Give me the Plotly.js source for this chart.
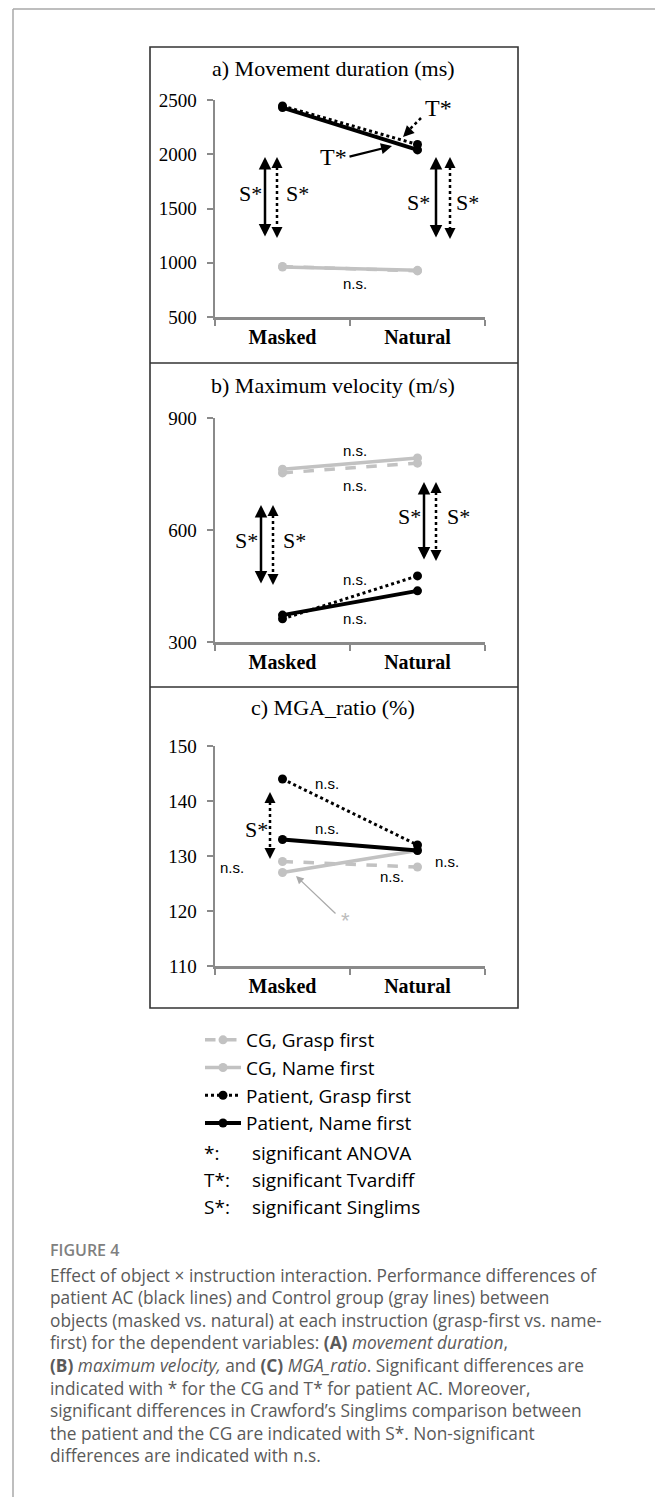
<!DOCTYPE html>
<html>
<head>
<meta charset="utf-8">
<script src="https://cdn.plot.ly/plotly-3.0.1.min.js"></script>
<style>
  html, body { margin: 0; padding: 0; background: #fff; }
  #chart { width: 655px; height: 1497px; }
</style>
</head>
<body>
<div id="chart"></div>
<script>
// ---------------- DATA ----------------
const categories = ['Masked', 'Natural'];
const seriesNames = ['CG, Grasp first', 'CG, Name first', 'Patient, Grasp first', 'Patient, Name first'];

// a) Movement duration (ms)
const durCGGrasp  = [965, 925];
const durCGName   = [960, 930];
const durPatGrasp = [2445, 2090];
const durPatName  = [2430, 2040];

// b) Maximum velocity (m/s)
const velCGGrasp  = [753, 779];
const velCGName   = [763, 793];
const velPatGrasp = [362, 477];
const velPatName  = [372, 437];

// c) MGA_ratio (%)
const mgaCGGrasp  = [129, 128];
const mgaCGName   = [127, 131];
const mgaPatGrasp = [144, 132];
const mgaPatName  = [133, 131];

const ticksA = [500, 1000, 1500, 2000, 2500];
const ticksB = [300, 600, 900];
const ticksC = [110, 120, 130, 140, 150];

const panelTitles = ['a) Movement duration (ms)', 'b) Maximum velocity (m/s)', 'c) MGA_ratio (%)'];

const legendExtra = [['*:', 'significant ANOVA'], ['T*:', 'significant Tvardiff'], ['S*:', 'significant Singlims']];

const captionHead = 'FIGURE 4';
const captionLines = [
  'Effect of object \u00d7 instruction interaction. Performance differences of',
  'patient AC (black lines) and Control group (gray lines) between',
  'objects (masked vs. natural) at each instruction (grasp-first vs. name-',
  'first) for the dependent variables: <b>(A)</b> <i>movement duration</i>,',
  '<b>(B)</b> <i>maximum velocity,</i> and <b>(C)</b> <i>MGA_ratio</i>. Significant differences are',
  'indicated with * for the CG and T* for patient AC. Moreover,',
  'significant differences in Crawford\u2019s Singlims comparison between',
  'the patient and the CG are indicated with S*. Non-significant',
  'differences are indicated with n.s.'
];

// ---------------- HELPERS ----------------
const W = 655, H = 1497;
const fx = p => p / W;
const fy = p => 1 - p / H;

const GRAY = '#c2c2c2';
const AXC = '#8a8a8a';
const SERIF = 'Liberation Serif, Times New Roman, serif';
const SANS = 'Liberation Sans, Arial, sans-serif';
const LEG = 'Open Sans, sans-serif';
const CAP = 'Open Sans, sans-serif';

const styles = [
  {color: GRAY, dash: 'dash', width: 3.5, msize: 9},
  {color: GRAY, dash: 'solid', width: 3.5, msize: 9},
  {color: '#000', dash: 'dot', width: 3, msize: 9},
  {color: '#000', dash: 'solid', width: 4, msize: 9}
];

const panels = [
  {data: [durCGGrasp, durCGName, durPatGrasp, durPatName], xa: 'x', ya: 'y'},
  {data: [velCGGrasp, velCGName, velPatGrasp, velPatName], xa: 'x2', ya: 'y2'},
  {data: [mgaCGGrasp, mgaCGName, mgaPatGrasp, mgaPatName], xa: 'x3', ya: 'y3'}
];

const traces = [];
panels.forEach((p, pi) => {
  p.data.forEach((vals, si) => {
    const s = styles[si];
    traces.push({
      type: 'scatter', mode: 'lines+markers',
      x: categories, y: vals,
      xaxis: p.xa, yaxis: p.ya,
      name: seriesNames[si],
      showlegend: pi === 0,
      line: {color: s.color, dash: s.dash, width: s.width},
      marker: {color: s.color, size: s.msize},
      cliponaxis: false,
      hoverinfo: 'skip'
    });
  });
});

function xAxis(anchor) {
  return {
    domain: [fx(215), fx(485)], anchor: anchor,
    type: 'category', range: [-0.5, 1.5], tickson: 'boundaries',
    ticks: 'outside', ticklen: 6, tickwidth: 2, tickcolor: AXC,
    showline: true, linecolor: AXC, linewidth: 2.5,
    showgrid: false, zeroline: false, fixedrange: true,
    tickfont: {family: SERIF, size: 20, color: '#000', weight: 'bold'}
  };
}
function yAxis(anchor, top, bottom, range, tv) {
  return {
    domain: [fy(bottom), fy(top)], anchor: anchor,
    range: range, tickmode: 'array', tickvals: tv,
    ticks: 'outside', ticklen: 6, tickwidth: 2, tickcolor: AXC,
    showline: true, linecolor: AXC, linewidth: 2.5,
    showgrid: false, zeroline: false, fixedrange: true,
    ticklabelstandoff: 6,
    tickfont: {family: SERIF, size: 19, color: '#000'}
  };
}

// ---------------- ANNOTATIONS / SHAPES ----------------
const ann = [];
const shapes = [];

function text(x, y, t, font, opts) {
  ann.push(Object.assign({xref: 'paper', yref: 'paper', x: fx(x), y: fy(y), text: t,
    showarrow: false, xanchor: 'center', yanchor: 'middle', font: font}, opts || {}));
}
const fNS = {family: SANS, size: 15, color: '#000'};
const fS = {family: SERIF, size: 22, color: '#000'};
const fT = {family: SERIF, size: 24, color: '#000'};

function solidDouble(x, yTop, yBot) {
  ann.push({xref: 'paper', yref: 'paper', x: fx(x), y: fy(yTop), ax: 0, ay: yBot - yTop,
    text: '', showarrow: true, arrowside: 'end+start', arrowhead: 2, arrowsize: 1,
    arrowwidth: 2.5, arrowcolor: '#000', standoff: 0, startstandoff: 0});
}
function head(x, y, dx, dy, color) {
  ann.push({xref: 'paper', yref: 'paper', x: fx(x), y: fy(y), ax: dx, ay: dy,
    text: '', showarrow: true, arrowhead: 2, arrowsize: 1, arrowwidth: 2.2,
    arrowcolor: color || '#000', standoff: 0});
}
function dottedLine(x0, y0, x1, y1) {
  shapes.push({type: 'line', xref: 'paper', yref: 'paper', x0: fx(x0), y0: fy(y0), x1: fx(x1), y1: fy(y1),
    line: {color: '#000', width: 2.5, dash: 'dot'}});
}
function dottedDouble(x, yTop, yBot) {
  dottedLine(x, yTop + 4, x, yBot - 4);
  head(x, yTop, 0, 8);
  head(x, yBot, 0, -8);
}

// Titles
text(333, 68, panelTitles[0], {family: SERIF, size: 22, color: '#000'});
text(333, 385, panelTitles[1], {family: SERIF, size: 22, color: '#000'});
text(333, 707, panelTitles[2], {family: SERIF, size: 22, color: '#000'});

// Panel a
text(438, 108, 'T*', fT);
dottedLine(421, 118, 405, 134);
head(403, 137, 6, -6);
text(333, 157, 'T*', fT);
head(392, 146, -44, 11);
solidDouble(265, 157, 238);
dottedDouble(277, 157, 238);
text(250, 194, 'S*', fS);
text(297, 194, 'S*', fS);
solidDouble(436, 157, 239);
dottedDouble(450, 157, 239);
text(418, 202, 'S*', fS);
text(468, 202, 'S*', fS);
text(355, 283, 'n.s.', fNS);

// Panel b
text(355, 450, 'n.s.', fNS);
text(355, 485, 'n.s.', fNS);
text(355, 579, 'n.s.', fNS);
text(355, 618, 'n.s.', fNS);
solidDouble(261, 505, 585);
dottedDouble(273, 505, 585);
text(246, 541, 'S*', fS);
text(294, 541, 'S*', fS);
solidDouble(424, 482, 561);
dottedDouble(436, 482, 561);
text(409, 516, 'S*', fS);
text(458, 516, 'S*', fS);

// Panel c
text(327, 783, 'n.s.', fNS);
text(327, 828, 'n.s.', fNS);
text(232, 867, 'n.s.', fNS);
text(447, 861, 'n.s.', fNS);
text(392, 877, 'n.s.', fNS);
text(256, 829, 'S*', fS);
dottedDouble(270, 792, 859);
ann.push({xref: 'paper', yref: 'paper', x: fx(296), y: fy(876), ax: 41, ay: 39,
  text: '', showarrow: true, arrowhead: 2, arrowsize: 1.2, arrowwidth: 1.3, arrowcolor: '#aaaaaa', standoff: 0});
text(345, 921, '*', {family: SANS, size: 22, color: '#bdbdbd'});

// Legend extra rows
const legendRowsY = [1153, 1180, 1207];
legendExtra.forEach((r, i) => {
  text(202, legendRowsY[i], r[0], {family: LEG, size: 19, color: '#000'}, {xanchor: 'left'});
  text(250, legendRowsY[i], r[1], {family: LEG, size: 19, color: '#000'}, {xanchor: 'left'});
});

// Caption
text(48, 1250, captionHead, {family: CAP, size: 16, color: '#808080', weight: 600}, {xanchor: 'left'});
captionLines.forEach((l, i) => {
  text(48, 1275 + i * 22.6, l, {family: CAP, size: 17.3, color: '#5a5a5a'}, {xanchor: 'left'});
});

// Frames
shapes.push({type: 'line', xref: 'paper', yref: 'paper', x0: fx(13), y0: fy(9), x1: 1, y1: fy(9), line: {color: '#a8a8a8', width: 1.5}});
shapes.push({type: 'line', xref: 'paper', yref: 'paper', x0: fx(13), y0: fy(9), x1: fx(13), y1: 0, line: {color: '#a8a8a8', width: 1.5}});
shapes.push({type: 'rect', xref: 'paper', yref: 'paper', x0: fx(150), y0: fy(1008), x1: fx(518), y1: fy(47), line: {color: '#333', width: 1.6}});
shapes.push({type: 'line', xref: 'paper', yref: 'paper', x0: fx(150), y0: fy(363), x1: fx(518), y1: fy(363), line: {color: '#333', width: 1.6}});
shapes.push({type: 'line', xref: 'paper', yref: 'paper', x0: fx(150), y0: fy(687), x1: fx(518), y1: fy(687), line: {color: '#333', width: 1.6}});

const layout = {
  width: W, height: H,
  margin: {l: 0, r: 0, t: 0, b: 0},
  paper_bgcolor: '#fff', plot_bgcolor: 'rgba(0,0,0,0)',
  xaxis: xAxis('y'), yaxis: yAxis('x', 100, 317, [500, 2500], ticksA),
  xaxis2: xAxis('y2'), yaxis2: yAxis('x2', 418, 642, [300, 900], ticksB),
  xaxis3: xAxis('y3'), yaxis3: yAxis('x3', 746, 966, [110, 150], ticksC),
  showlegend: true,
  legend: {
    x: fx(200), y: fy(1021), xanchor: 'left', yanchor: 'top',
    font: {family: LEG, size: 19, color: '#000'},
    bgcolor: 'rgba(0,0,0,0)', borderwidth: 0, traceorder: 'normal',
    itemwidth: 36,
    itemclick: false, itemdoubleclick: false
  },
  annotations: ann, shapes: shapes
};

Plotly.newPlot('chart', traces, layout, {staticPlot: true, displayModeBar: false});
</script>
</body>
</html>
